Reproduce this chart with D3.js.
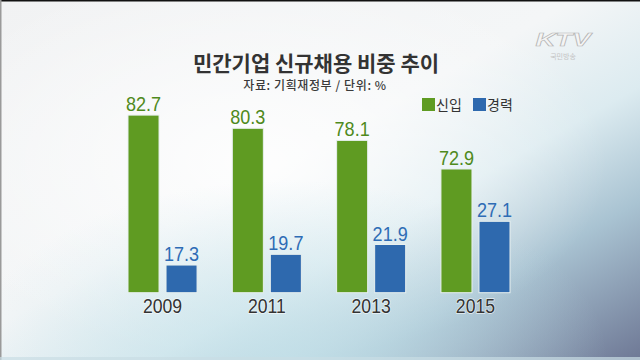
<!DOCTYPE html>
<html><head><meta charset="utf-8">
<script src="https://cdn.jsdelivr.net/npm/d3@7/dist/d3.min.js"></script>
<style>html,body{margin:0;padding:0;background:#fff;}svg{display:block;}</style>
</head><body><div id="chart"></div>
<script>
const years = ["2009", "2011", "2013", "2015"];
const newHires = [82.7, 80.3, 78.1, 72.9];      // 신입
const experienced = [17.3, 19.7, 21.9, 27.1];   // 경력
const seriesNames = ["신입", "경력"];
const title = "민간기업 신규채용 비중 추이";
const subtitle = "자료: 기획재정부 / 단위: %";

const W = 640, H = 360;
const svg = d3.select("#chart").append("svg").attr("width", W).attr("height", H);
const defs = svg.append("defs");

// background
const bg = defs.append("linearGradient").attr("id","bg").attr("x1","0").attr("y1","0").attr("x2","1").attr("y2","1");
[[0,"#f1f2f3"],[0.45,"#f4f6f7"],[0.62,"#dcebf0"],[0.78,"#a9c3d2"],[1,"#6e7895"]].forEach(s=>bg.append("stop").attr("offset",s[0]).attr("stop-color",s[1]));
svg.append("rect").attr("width",W).attr("height",H).attr("fill","url(#bg)");
const rg = defs.append("radialGradient").attr("id","glow").attr("cx","0.4").attr("cy","0.45").attr("r","0.55");
rg.append("stop").attr("offset",0).attr("stop-color","#ffffff").attr("stop-opacity",0.85);
rg.append("stop").attr("offset",1).attr("stop-color","#ffffff").attr("stop-opacity",0);
svg.append("rect").attr("width",W).attr("height",H).attr("fill","url(#glow)");
const bl = defs.append("radialGradient").attr("id","blue").attr("cx","0.45").attr("cy","1").attr("r","0.5");
bl.append("stop").attr("offset",0).attr("stop-color","#c4e2ea").attr("stop-opacity",0.8);
bl.append("stop").attr("offset",1).attr("stop-color","#c4e2ea").attr("stop-opacity",0);
svg.append("rect").attr("width",W).attr("height",H).attr("fill","url(#blue)");
svg.append("rect").attr("x",0).attr("y",0).attr("width",W).attr("height",1.5).attr("fill","#111");
svg.append("rect").attr("x",0).attr("y",0).attr("width",1.5).attr("height",H).attr("fill","#9a9a9a");
svg.append("rect").attr("x",0).attr("y",H-3).attr("width",W).attr("height",3).attr("fill","#c9dde4").attr("opacity",0.7);

// KTV logo
const logo = svg.append("g").attr("transform","translate(563,46)");
logo.append("text").attr("text-anchor","middle").attr("font-family","Liberation Sans, Arial, sans-serif")
  .attr("font-style","italic").attr("font-weight","bold").attr("font-size",24)
  .attr("fill","#f4f4f4").attr("stroke","#b5b5b5").attr("stroke-width",0.8).attr("transform","scale(1.15,0.8)").text("KTV");
logo.append("text").attr("y",13).attr("text-anchor","middle").attr("font-family","Noto Sans CJK KR")
  .attr("font-size",7).attr("fill","#c4c4c4").text("국민방송");

// title
svg.append("text").attr("x",316).attr("y",71).attr("text-anchor","middle")
  .attr("font-family","Noto Sans CJK KR").attr("font-weight","bold").attr("font-size",21)
  .attr("fill","#333").text(title);
svg.append("text").attr("x",315).attr("y",90).attr("text-anchor","middle")
  .attr("font-family","Noto Sans CJK KR").attr("font-weight",500).attr("font-size",12)
  .attr("letter-spacing",0.6).attr("fill","#3a3a3a").text(subtitle);

const colors = ["#5f9b22", "#2e69ae"];
const labelColors = ["#4f8a1c", "#2e6cb5"];

// legend
const legX = [422, 473];
seriesNames.forEach((n,i)=>{
  svg.append("rect").attr("x",legX[i]).attr("y",98).attr("width",13).attr("height",13).attr("fill",colors[i]);
  svg.append("text").attr("x",legX[i]+14).attr("y",110).attr("font-family","Noto Sans CJK KR")
    .attr("font-size",14).attr("fill","#333").text(n);
});

// scales
const baseY = 292.7;
const x0 = d3.scaleBand().domain(years).range([128, 510]).paddingInner(0.338).paddingOuter(0);
const x1 = d3.scaleBand().domain([0,1]).range([0, x0.bandwidth()]).paddingInner(0.184).paddingOuter(0);
const yGreen = d3.scaleLinear().domain([50.4, 82.7]).range([baseY, 115.1]);
const yBlue = d3.scaleLinear().domain([11.1, 27.1]).range([baseY, 221.3]);
const ys = [yGreen, yBlue];
const series = [newHires, experienced];

const g = svg.append("g");
series.forEach((vals, si)=>{
  vals.forEach((v, i)=>{
    const bx = x0(years[i]) + x1(si);
    const by = ys[si](v);
    g.append("rect").attr("x",bx).attr("y",by).attr("width",x1.bandwidth()).attr("height",baseY-by)
      .attr("fill",colors[si]).attr("stroke","#e8f0ef").attr("stroke-width",1);
    g.append("text").attr("transform",`translate(${bx + x1.bandwidth()/2},${by-4}) scale(0.86,1)`)
      .attr("text-anchor","middle").attr("font-family","Liberation Sans, Arial, sans-serif")
      .attr("font-size",21).attr("fill",labelColors[si]).text(v.toFixed(1));
  });
});

// x axis labels
const xAxis = d3.axisBottom(x0).tickSize(0).tickPadding(0);
const ax = svg.append("g").attr("transform",`translate(0,${baseY})`).call(xAxis);
ax.select(".domain").remove();
ax.selectAll("text").attr("font-family","Liberation Sans, Arial, sans-serif").attr("font-size",21)
  .attr("fill","#333").attr("dy",null).attr("y",20).attr("x",0)
  .attr("transform","scale(0.84,1)")
  .style("paint-order","stroke").attr("stroke","#ffffff").attr("stroke-width",1.5).attr("stroke-opacity",0.7);
</script></body></html>
